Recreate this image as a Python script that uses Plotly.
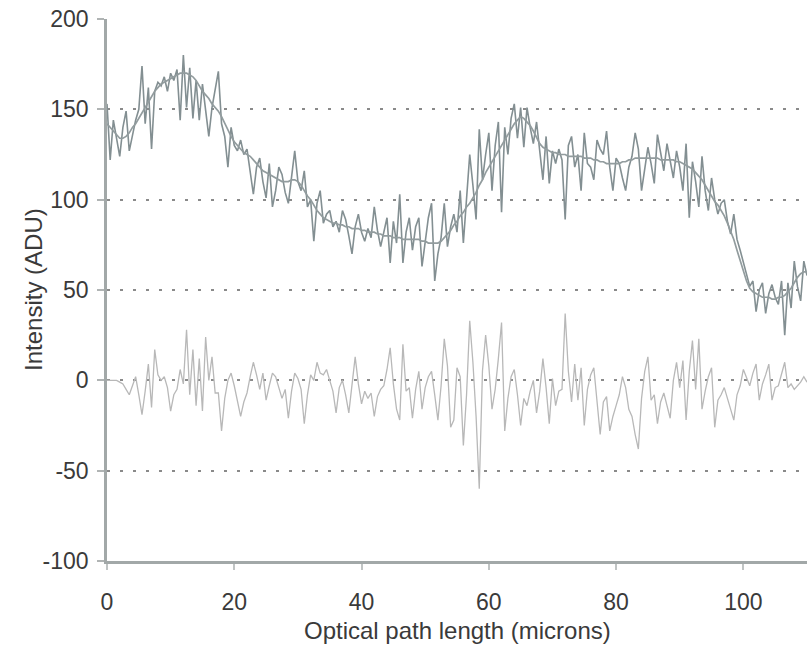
import plotly.graph_objects as go

# Sample spacing along the optical path (microns)
step = 0.5

raw = [153,122,144,133,124,140,149,127,135,144,150,174,142,162,128,160,165,163,168,160,
       170,166,172,144,180,151,173,145,166,144,164,150,135,151,160,171,142,135,118,140,
       130,127,133,125,128,115,103,118,123,110,101,120,96,105,118,114,104,98,112,127,
       110,105,116,96,100,77,98,105,87,92,94,85,88,82,94,89,80,70,85,92,
       82,77,84,79,96,83,74,82,90,65,88,76,103,65,82,90,72,85,90,63,
       78,90,98,55,70,79,98,74,85,92,82,105,76,98,125,108,89,139,111,125,
       137,105,130,143,93,140,125,145,153,134,151,129,151,140,131,143,125,111,135,109,
       127,120,128,122,89,130,135,118,125,105,137,120,118,111,133,128,125,138,118,105,
       123,120,112,105,118,124,137,128,105,118,129,120,109,136,125,116,131,122,112,127,
       118,105,131,90,121,110,96,124,105,94,112,100,92,98,100,88,81,92,78,72,
       65,58,52,55,38,50,54,37,48,53,46,42,55,25,54,40,66,52,44,66,
       58]

smooth = [142,140,138,136,134,134,135,137,140,142,145,148,151,154,157,160,162,164,165,166,
          167,168,169,170,170,170,169,168,166,163,160,158,156,153,151,149,146,142,138,135,
          132,130,128,126,125,124,122,120,118,116,115,114,113,112,111,110,110,110,111,111,
          110,108,105,102,100,97,94,92,90,89,88,87,87,86,86,85,85,84,84,84,
          83,83,82,82,82,81,81,80,80,80,79,79,79,78,78,78,78,78,78,77,
          77,76,76,76,76,77,79,81,83,86,88,91,93,96,98,101,104,108,111,115,
          118,121,124,127,130,133,136,139,142,144,146,145,143,141,138,134,131,129,128,127,
          126,126,125,125,125,124,124,124,124,124,123,123,123,122,122,121,121,120,120,120,
          120,120,121,121,122,122,123,123,123,123,123,123,123,123,122,122,122,122,122,121,
          121,120,119,118,117,115,113,111,108,105,102,99,97,94,91,87,83,78,72,66,
          60,55,51,49,48,47,46,46,46,45,45,46,46,47,49,51,54,57,59,60,
          60]

residual = [0,0,0,0,-1,-2,-5,-8,-3,2,-8,-19,-6,9,-15,17,3,0,2,-4,
            -17,-8,-5,6,-2,28,-8,17,-14,12,-17,24,0,13,-7,-7,-28,-10,0,4,
            -3,-12,-20,-12,-7,2,10,3,-5,4,-11,-3,4,2,-4,-10,-5,-21,-6,4,
            1,-5,-24,-8,3,0,10,4,3,6,0,-6,-18,-4,0,-8,-18,-4,13,-2,
            -13,-6,-10,-7,-20,-9,-5,-3,6,18,-2,-16,-22,20,-6,-4,-21,-5,5,-16,
            -4,2,5,-8,-22,-3,23,8,-26,-22,7,2,-36,-8,33,10,-20,-60,5,25,
            8,-16,-5,12,32,-28,-10,2,6,-8,-25,-10,-14,-6,0,-18,-6,12,-4,-24,
            1,-14,-6,-5,37,5,-12,9,-11,7,-25,-5,3,7,-10,-30,-12,-9,-28,-20,
            -14,-8,2,-4,-16,-20,-30,-38,-10,5,13,-11,-8,-24,-12,-7,-14,-21,0,10,
            -4,11,-22,5,22,-5,23,-16,-6,2,7,-26,-11,-8,-4,-10,-16,-22,-8,-3,
            6,2,-3,4,9,-11,-2,3,9,-11,-4,-3,4,10,-4,-2,-5,-3,-1,2,
            -1]

y_ticks = [-100, -50, 0, 50, 100, 150, 200]
x_ticks = [0, 20, 40, 60, 80, 100]
x_title = "Optical path length (microns)"
y_title = "Intensity (ADU)"

x_raw = [i * step for i in range(len(raw))]
x_smooth = [i * step for i in range(len(smooth))]
x_res = [i * step for i in range(len(residual))]

fig = go.Figure()
fig.add_trace(go.Scatter(x=x_res, y=residual, mode="lines",
                         line=dict(color="#b8b8b8", width=1.3), name="Residual"))
fig.add_trace(go.Scatter(x=x_raw, y=raw, mode="lines",
                         line=dict(color="#838f92", width=1.6), name="Measured"))
fig.add_trace(go.Scatter(x=x_smooth, y=smooth, mode="lines",
                         line=dict(color="#929c9e", width=1.7), name="Smoothed"))

axis_col = "#a2a8a8"
font_col = "#3a3a3a"
fsize = 23

fig.update_layout(
    width=807, height=645,
    margin=dict(l=107, r=0, t=19, b=84),
    paper_bgcolor="white", plot_bgcolor="white",
    showlegend=False,
    font=dict(family="Liberation Sans, Arial, sans-serif", size=fsize, color=font_col),
    annotations=[
        dict(text=x_title, xref="paper", yref="paper", x=0.5, y=0,
             xanchor="center", yanchor="middle", yshift=-69, showarrow=False,
             font=dict(size=fsize + 1, color=font_col)),
        dict(text=y_title, xref="paper", yref="paper", x=0, y=0.5,
             xanchor="center", yanchor="middle", xshift=-74, textangle=-90,
             showarrow=False, font=dict(size=fsize + 1, color=font_col)),
    ],
)
fig.update_xaxes(
    range=[0, 110], tickvals=x_ticks, ticktext=[str(v) for v in x_ticks],
    showgrid=False, zeroline=False,
    showline=True, linecolor=axis_col, linewidth=2.5,
    ticks="outside", ticklen=6, tickwidth=1.5, tickcolor="#c0c4c4",
    ticklabelstandoff=13,
    tickfont=dict(size=fsize, color=font_col),
)
fig.update_yaxes(
    range=[-100, 200], tickvals=y_ticks, ticktext=[str(v) for v in y_ticks],
    showgrid=True, gridcolor="#8a8a8a", gridwidth=1.5, griddash="3px,10px",
    zeroline=False,
    showline=True, linecolor=axis_col, linewidth=2.5,
    ticks="outside", ticklen=7, tickwidth=1.5, tickcolor="#b0b4b4",
    ticklabelstandoff=4,
    tickfont=dict(size=fsize, color=font_col),
)

fig.write_html("out.html", config={"displayModeBar": False},
               post_script="document.body.style.margin='0';document.body.style.overflow='hidden';")
